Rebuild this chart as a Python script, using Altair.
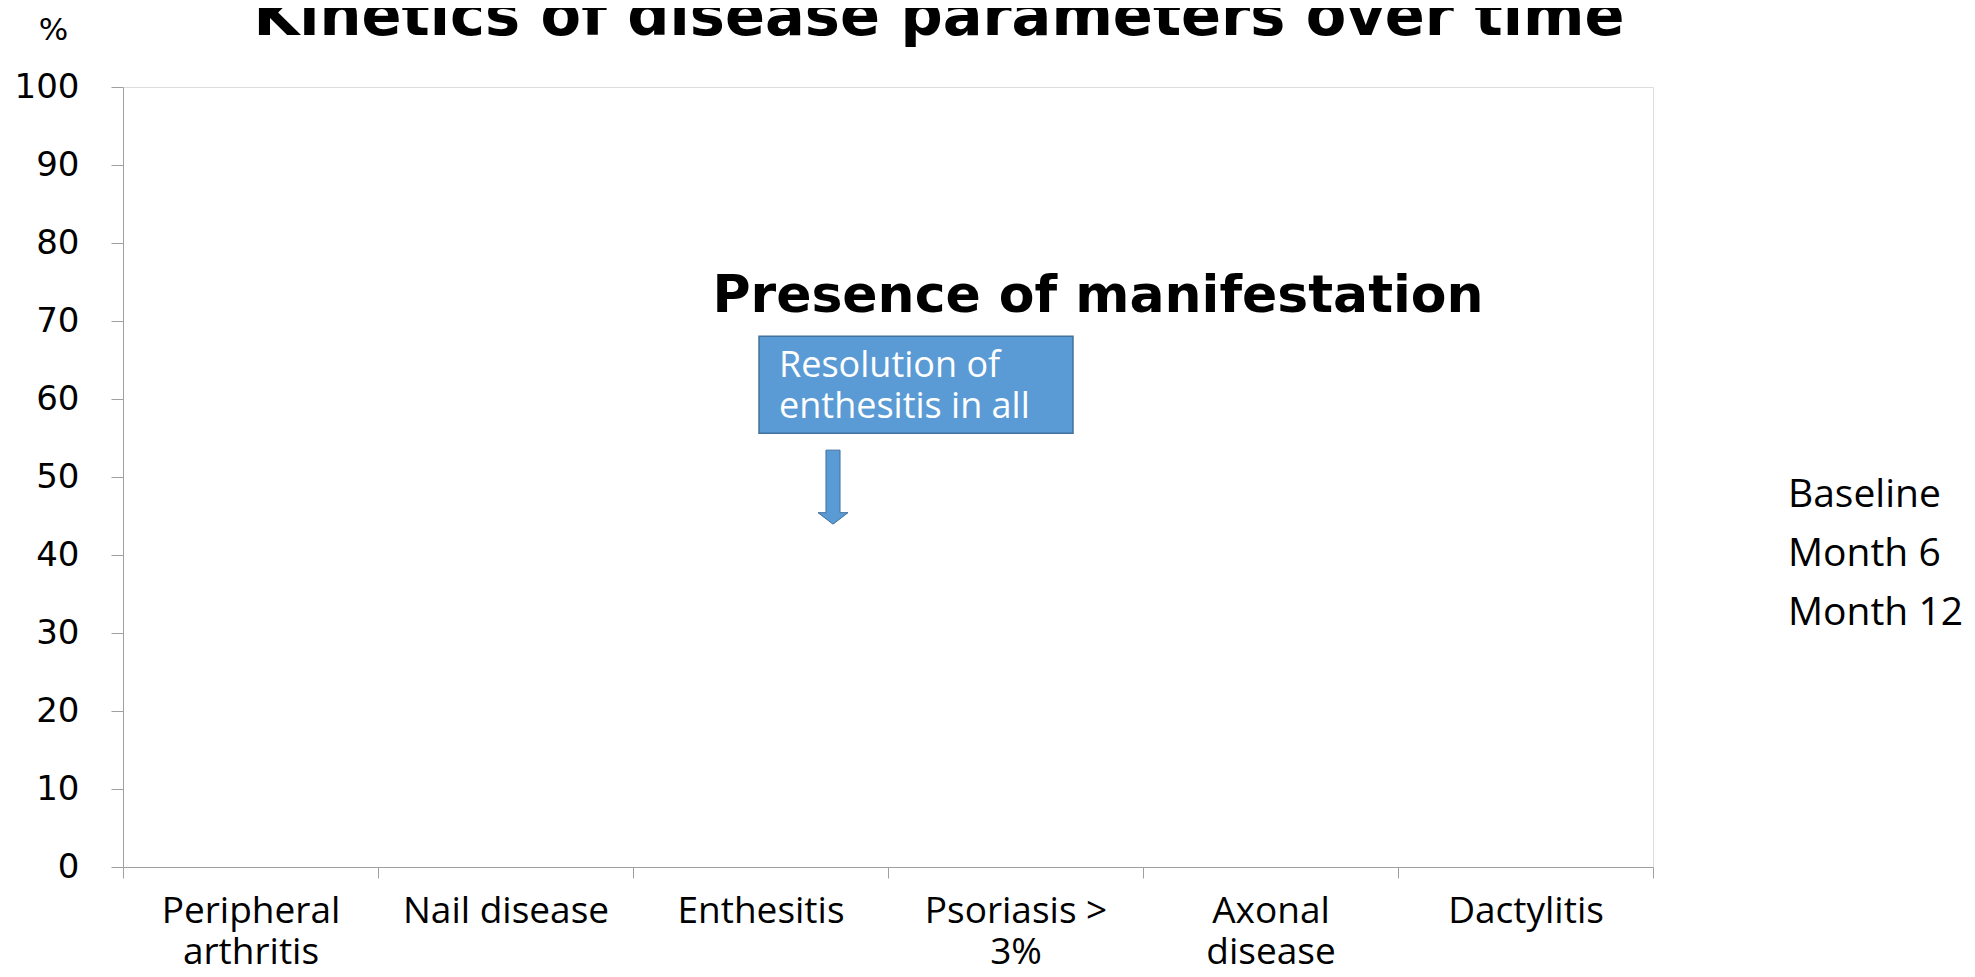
import altair as alt
import pandas as pd

# ---- data -------------------------------------------------------------
categories = ["Peripheral arthritis", "Nail disease", "Enthesitis",
              "Psoriasis > 3%", "Axonal disease", "Dactylitis"]
tick_labels = [["Peripheral", "arthritis"], ["Nail disease"], ["Enthesitis"],
               ["Psoriasis >", "3%"], ["Axonal", "disease"], ["Dactylitis"]]
series = ["Baseline", "Month 6", "Month 12"]
series_colors = ["#4F81BD", "#C0504D", "#9BBB59"]
# No bars are drawn in the reference picture: values are not shown.
baseline_values = [None, None, None, None, None, None]
month6_values = [None, None, None, None, None, None]
month12_values = [None, None, None, None, None, None]
y_ticks = [0, 10, 20, 30, 40, 50, 60, 70, 80, 90, 100]

rows = []
for s, vals in zip(series, [baseline_values, month6_values, month12_values]):
    for c, v in zip(categories, vals):
        rows.append({"category": c, "series": s, "value": v})
df = pd.DataFrame(rows)

# multi-line tick labels
label_expr = ""
for c, lab in zip(categories, tick_labels):
    arr = "[" + ",".join("'" + t + "'" for t in lab) + "]"
    label_expr += f"datum.value == '{c}' ? {arr} : "
label_expr += "datum.value"

PLOT_W, PLOT_H = 1530, 780
AXIS_GREY = "#A0A0A0"
FONT_Y = "DejaVu Sans"
FONT = "Open Sans"
FONT_BOLD = "DejaVu Sans"

x_enc = alt.X("category:N", sort=categories,
              scale=alt.Scale(domain=categories, paddingInner=0, paddingOuter=0),
              axis=alt.Axis(title=None, labelAngle=0, labelExpr=label_expr,
                            labelFont=FONT, labelFontSize=37, labelLineHeight=41,
                            labelColor="black", labelBaseline="top",
                            labelPadding=15, tickBand="extent", tickSize=11,
                            tickColor=AXIS_GREY, domainColor=AXIS_GREY,
                            labelLimit=400))
y_enc = alt.Y("value:Q", scale=alt.Scale(domain=[0, 100], nice=False),
              axis=alt.Axis(title="%", titleAngle=0, titleX=-70, titleY=-57,
                            titleAlign="center", titleBaseline="middle",
                            titleFont=FONT_Y, titleFontSize=31,
                            titleFontWeight="normal", titleColor="black",
                            values=y_ticks, labelFont=FONT_Y, labelFontSize=34,
                            labelColor="black", labelPadding=32, tickSize=12,
                            tickColor=AXIS_GREY, domainColor=AXIS_GREY,
                            grid=False))

bars = alt.Chart(df).mark_bar().encode(
    x=x_enc,
    xOffset=alt.XOffset("series:N", sort=series),
    y=y_enc,
    color=alt.Color("series:N", sort=series,
                    scale=alt.Scale(domain=series, range=series_colors),
                    legend=alt.Legend(title=None, orient="none",
                                      legendX=1626, legendY=388,
                                      symbolOpacity=0, symbolSize=0,
                                      symbolStrokeWidth=0, labelOffset=0,
                                      labelFont=FONT, labelFontSize=39,
                                      labelColor="black", rowPadding=19,
                                      padding=0, labelLimit=400)),
)

one = pd.DataFrame({"k": [0]})

title = alt.Chart(one).mark_text(
    text="Kinetics of disease parameters over time", font=FONT_BOLD,
    fontSize=59, fontWeight="bold", color="black", align="center",
    baseline="alphabetic").encode(x=alt.value(816), y=alt.value(-52))

presence = alt.Chart(one).mark_text(
    text="Presence of manifestation", font=FONT_BOLD, fontSize=52,
    fontWeight="bold", color="black", align="center",
    baseline="alphabetic").encode(x=alt.value(975), y=alt.datum(71.2))

box = alt.Chart(one).mark_rect(
    fill="#5B9BD5", stroke="#41719C", strokeWidth=1.5).encode(
    x=alt.value(636), x2=alt.value(950),
    y=alt.datum(68.05), y2=alt.datum(55.6))

box_text1 = alt.Chart(one).mark_text(
    text="Resolution of", font=FONT, fontSize=36, color="white",
    align="left", baseline="alphabetic").encode(
    x=alt.value(656), y=alt.datum(62.8))
box_text2 = alt.Chart(one).mark_text(
    text="enthesitis in all", font=FONT, fontSize=36, color="white",
    align="left", baseline="alphabetic").encode(
    x=alt.value(656), y=alt.datum(57.6))

arrow_path = ("M-0.19,-1 L0.19,-1 L0.19,0.69 L0.405,0.69 L0,1 "
              "L-0.405,0.69 L-0.19,0.69 Z")
arrow = alt.Chart(one).mark_point(
    shape=arrow_path, filled=True, fill="#5B9BD5", stroke="#41719C",
    strokeWidth=1, opacity=1, size=5476).encode(
    x=alt.value(710), y=alt.datum(48.7))

chart = alt.layer(bars, title, presence, box, box_text1, box_text2, arrow).properties(
    width=PLOT_W, height=PLOT_H,
    padding={"left": 115, "top": 79, "right": 314, "bottom": 102},
    autosize=alt.AutoSizeParams(type="none"),
).configure_view(stroke=None).configure(background="white")

chart.save("out.html", embed_options={"renderer": "svg", "actions": False})
